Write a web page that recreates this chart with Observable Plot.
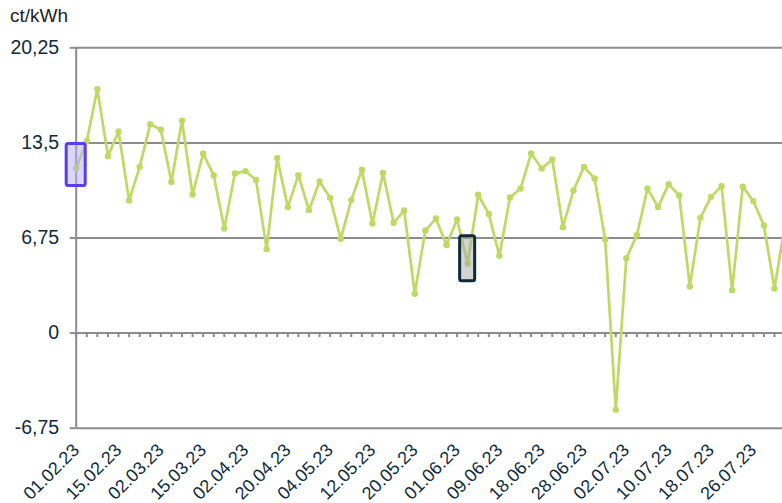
<!DOCTYPE html>
<html><head><meta charset="utf-8">
<script src="https://cdn.jsdelivr.net/npm/d3@7"></script>
<script src="https://cdn.jsdelivr.net/npm/@observablehq/plot@0.6"></script>
<style>
body{margin:0;background:#fff;font-family:"Liberation Sans",Arial,sans-serif;}
#wrap{position:relative;width:782px;height:503px;overflow:hidden;}
#unit{position:absolute;left:10px;top:6px;font-size:19px;color:#222;line-height:19px;}
#wrap svg{position:absolute;left:0;top:0;}
</style></head><body>
<div id="wrap"><div id="unit">ct/kWh</div></div>
<script>
// price per day (ct/kWh), one value per category position
const values = [11.71, 13.63, 17.32, 12.56, 14.31, 9.41, 11.80, 14.83, 14.43, 10.72,
  15.07, 9.84, 12.75, 11.19, 7.42, 11.33, 11.50, 10.87, 5.96, 12.42,
  8.94, 11.21, 8.73, 10.76, 9.60, 6.69, 9.44, 11.59, 7.78, 11.36,
  7.83, 8.70, 2.79, 7.28, 8.13, 6.25, 8.06, 4.94, 9.82, 8.45,
  5.49, 9.62, 10.26, 12.75, 11.68, 12.32, 7.52, 10.12, 11.80, 10.97,
  6.64, -5.44, 5.32, 6.96, 10.26, 8.94, 10.57, 9.77, 3.31, 8.18,
  9.67, 10.43, 3.05, 10.40, 9.37, 7.64, 3.17, 7.72];
const tickIndex = [0, 4, 8, 12, 16, 20, 24, 28, 32, 36, 40, 44, 48, 52, 56, 60, 64];
const tickLabels = ["01.02.23", "15.02.23", "02.03.23", "15.03.23", "02.04.23", "20.04.23",
  "04.05.23", "12.05.23", "20.05.23", "01.06.23", "09.06.23", "18.06.23", "28.06.23",
  "02.07.23", "10.07.23", "18.07.23", "26.07.23"];
const yTicks = [-6.75, 0, 6.75, 13.5, 20.25];
// highlighted points: index, box low / high value
const highlightIndex = [0, 37];
const highlightLow = [10.44, 3.68];
const highlightHigh = [13.42, 6.87];

const grey = "#8c8c90";
const textColor = "#0e2b3b";
const green = "#bed964";
const idx = d3.range(values.length);
const data = values.map((v, i) => ({i, v}));
const hl = highlightIndex.map((i, k) => ({i, lo: highlightLow[k], hi: highlightHigh[k], k}));

const chart = Plot.plot({
  width: 782, height: 503,
  marginLeft: 75.7, marginRight: 0, marginTop: 47.3, marginBottom: 75.3,
  style: {fontFamily: "'Liberation Sans', Arial, sans-serif", background: "transparent"},
  x: {domain: [0, 66.76], axis: null},
  y: {domain: [-6.75, 20.25], axis: null},
  marks: [
    Plot.ruleY(yTicks, {stroke: grey, strokeWidth: 2}),
    Plot.ruleX([0], {y1: -6.75, y2: 20.25, stroke: grey, strokeWidth: 2}),
    Plot.axisY(yTicks, {tickSize: 6, tickPadding: 11, stroke: grey, strokeWidth: 2, fill: textColor,
      fontSize: 19.5, label: null, tickFormat: d => String(d).replace(".", ",")}),
    Plot.ruleX(idx, {x: d => d, y1: 0, y2: 0, insetBottom: -4.5, stroke: grey, strokeWidth: 2}),
    Plot.line(data, {x: "i", y: "v", stroke: green, strokeWidth: 2.7}),
    Plot.dot(data, {x: "i", y: "v", r: 3.2, fill: green}),
    Plot.rect(hl.filter(d => d.k === 0), {x1: d => d.i - 0.9, x2: d => d.i + 0.9, y1: "lo", y2: "hi",
      fill: "#b4aef0", fillOpacity: 0.5, stroke: "#5b3ee8", strokeWidth: 3, rx: 2}),
    Plot.rect(hl.filter(d => d.k === 1), {x1: d => d.i - 0.71, x2: d => d.i + 0.71, y1: "lo", y2: "hi",
      fill: "#a8a8a8", fillOpacity: 0.5, stroke: "#102a36", strokeWidth: 3, rx: 2}),
    Plot.text(tickIndex, {x: d => d, y: -6.75, text: (d, k) => tickLabels[k], rotate: -45,
      textAnchor: "end", dy: 19, fontSize: 18, fill: textColor})
  ]
});
document.getElementById("wrap").appendChild(chart);
</script>
</body></html>
